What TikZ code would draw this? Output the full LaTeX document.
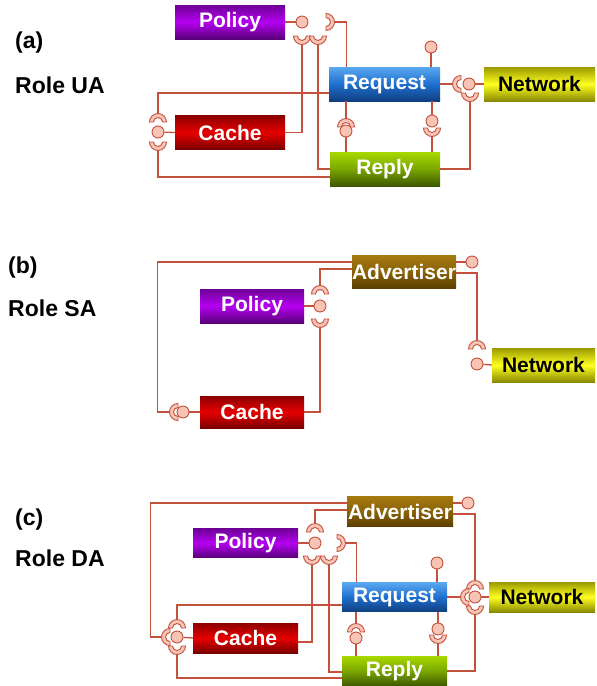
\documentclass[tikz,border=0pt]{standalone}
\usepackage{fontspec}
\setmainfont{Liberation Sans}

\definecolor{linkc}{HTML}{C4513E}
\definecolor{ballc}{HTML}{F7C4B6}

\tikzset{
  comp node/.style={rectangle, inner sep=0pt, text=white,
                    font=\fontsize{21pt}{25pt}\selectfont\bfseries},
  policy box/.style={comp node, top color={rgb,255:red,110;green,0;blue,150},
                     bottom color={rgb,255:red,90;green,0;blue,122},
                     middle color={rgb,255:red,180;green,0;blue,240}},
  cache box/.style={comp node, top color={rgb,255:red,140;green,0;blue,0},
                    bottom color={rgb,255:red,122;green,0;blue,0},
                    middle color={rgb,255:red,230;green,0;blue,0}},
  request box/.style={comp node, top color={rgb,255:red,90;green,168;blue,240},
                      bottom color={rgb,255:red,16;green,63;blue,128},
                      middle color={rgb,255:red,31;green,111;blue,208}},
  reply box/.style={comp node, top color={rgb,255:red,168;green,216;blue,0},
                    bottom color={rgb,255:red,62;green,88;blue,0},
                    middle color={rgb,255:red,122;green,166;blue,0}},
  network box/.style={comp node, text=black,
                      top color={rgb,255:red,154;green,154;blue,0},
                      bottom color={rgb,255:red,138;green,138;blue,0},
                      middle color={rgb,255:red,255;green,255;blue,32}},
  advertiser box/.style={comp node, top color={rgb,255:red,165;green,122;blue,16},
                         bottom color={rgb,255:red,92;green,64;blue,0},
                         middle color={rgb,255:red,138;green,98;blue,8}},
  role label/.style={anchor=west, inner sep=0pt,
                     font=\fontsize{23pt}{27pt}\selectfont\bfseries},
  ball node/.style={circle, draw=linkc, fill=ballc, line width=0.9pt,
                    inner sep=0pt, minimum size=12pt},
  link/.style={draw=linkc, line width=1.3pt},
  sock/.pic={
    \filldraw[draw=linkc, fill=ballc, line width=0.9pt]
      (0,8.5) arc[start angle=90, end angle=270, radius=8.5]
      -- (0,-4.5) arc[start angle=270, end angle=90, radius=4.5] -- cycle;
    \coordinate (-b) at (-8.5,0);
  }
}

\begin{document}
\begin{tikzpicture}[x=1pt, y=-1pt]
  \useasboundingbox (0,0) rectangle (597,686);

  % (a) Role UA
  \node[role label] (labA) at (15,43) {(a)};
  \node[role label] (roleA) at (15,85) {Role UA};

  \node[policy box, minimum width=110pt, minimum height=34pt] (polA) at (230,22) {Policy};
  \node[request box, minimum width=111pt, minimum height=34pt] (reqA) at (384.5,84) {Request};
  \node[cache box, minimum width=110pt, minimum height=34pt] (cacA) at (230,132.5) {Cache};
  \node[reply box, minimum width=110pt, minimum height=34pt] (repA) at (385,169) {Reply};
  \node[network box, minimum width=111pt, minimum height=34pt] (netA) at (539.5,84) {Network};

  \pic[rotate=180] (sA1) at (326,22) {sock};
  \pic[rotate=90] (sA2) at (302,36) {sock};
  \pic[rotate=90] (sA3) at (318,36) {sock};
  \pic (sA4) at (461,84) {sock};
  \pic[rotate=90] (sA5) at (470,93) {sock};
  \pic[rotate=-90] (sA6) at (346,127) {sock};
  \pic[rotate=90] (sA7) at (432,128) {sock};
  \pic[rotate=-90] (sA8) at (158,122) {sock};
  \pic[rotate=90] (sA9) at (158,142) {sock};

  \node[ball node] (bA1) at (302,22) {};
  \node[ball node] (bA2) at (431,47) {};
  \node[ball node] (bA3) at (469,84) {};
  \node[ball node] (bA4) at (346,131) {};
  \node[ball node] (bA5) at (432,121) {};
  \node[ball node] (bA6) at (158,132) {};

  \draw[link] (polA) -- (bA1);
  \draw[link] (sA1-b) -| ([xshift=18pt]reqA.north west);
  \draw[link] (sA2-b) |- (cacA.east);
  \draw[link] (sA3-b) |- (repA.west);
  \draw[link] (bA2) -- (bA2 |- reqA.north);
  \draw[link] (reqA.east) -- (sA4-b);
  \draw[link] (bA3) -- (netA.west);
  \draw[link] (sA5-b) |- (repA.east);
  \draw[link] (sA6-b) -- (sA6-b |- reqA.south);
  \draw[link] (bA4) -- (bA4 |- repA.north);
  \draw[link] (bA5) -- (bA5 |- reqA.south);
  \draw[link] (sA7-b) -- (sA7-b |- repA.north);
  \draw[link] (bA6) -- (cacA.west);
  \draw[link] (sA8-b) |- ([yshift=-9pt]reqA.west);
  \draw[link] (sA9-b) |- ([yshift=-8pt]repA.west);

  % (b) Role SA
  \node[role label] (labB) at (8,268) {(b)};
  \node[role label] (roleB) at (8,308) {Role SA};

  \node[policy box, minimum width=104pt, minimum height=34pt] (polB) at (252,306) {Policy};
  \node[cache box, minimum width=104pt, minimum height=32pt] (cacB) at (252,412) {Cache};
  \node[advertiser box, minimum width=104pt, minimum height=33pt] (advB) at (404,271.5) {Advertiser};
  \node[network box, minimum width=103pt, minimum height=34pt] (netB) at (543.5,365) {Network};

  \pic[rotate=-90] (sB1) at (320,294) {sock};
  \pic[rotate=90] (sB2) at (320,319) {sock};
  \pic (sB3) at (178,412) {sock};
  \pic[rotate=-90] (sB4) at (477,349) {sock};

  \node[ball node] (bB1) at (320,306) {};
  \node[ball node] (bB2) at (183,412) {};
  \node[ball node] (bB3) at (472,262) {};
  \node[ball node] (bB4) at (477,364) {};

  \draw[link] (polB) -- (bB1);
  \draw[link] (sB1-b) |- ([yshift=2.5pt]advB.west);
  \draw[link] (sB2-b) |- (cacB.east);
  \draw[link] (bB2) -- (cacB.west);
  \draw[link] (sB3-b) -- ++(-12,0) |- ([yshift=9.5pt]advB.west);
  \draw[link] ([yshift=9.5pt]advB.east) -- (bB3);
  \draw[link] ([yshift=-1.5pt]advB.east) -| (sB4-b);
  \draw[link] (bB4) -- (netB.west);

  % (c) Role DA
  \node[role label] (labC) at (15,520) {(c)};
  \node[role label] (roleC) at (15,558) {Role DA};

  \node[advertiser box, minimum width=106pt, minimum height=30pt] (advC) at (400,511.5) {Advertiser};
  \node[policy box, minimum width=105pt, minimum height=29pt] (polC) at (245.5,543) {Policy};
  \node[request box, minimum width=105pt, minimum height=29pt] (reqC) at (394.5,597) {Request};
  \node[network box, minimum width=106pt, minimum height=30pt] (netC) at (542,597) {Network};
  \node[cache box, minimum width=105pt, minimum height=30pt] (cacC) at (245.5,638) {Cache};
  \node[reply box, minimum width=105pt, minimum height=30pt] (repC) at (394.5,671) {Reply};

  \pic[rotate=-90] (sC1) at (315,532) {sock};
  \pic[rotate=180] (sC2) at (337,543) {sock};
  \pic[rotate=90] (sC3) at (312,556) {sock};
  \pic[rotate=90] (sC4) at (329,556) {sock};
  \pic[rotate=-90] (sC5) at (475,589) {sock};
  \pic (sC6) at (469,597) {sock};
  \pic[rotate=90] (sC7) at (475,606) {sock};
  \pic[rotate=-90] (sC8) at (356,632) {sock};
  \pic[rotate=90] (sC9) at (438,635) {sock};
  \pic[rotate=-90] (sC10) at (177,628) {sock};
  \pic (sC11) at (170,637) {sock};
  \pic[rotate=90] (sC12) at (177,646) {sock};

  \node[ball node] (bC1) at (315,543) {};
  \node[ball node] (bC2) at (468,503) {};
  \node[ball node] (bC3) at (437,563) {};
  \node[ball node] (bC4) at (475,597) {};
  \node[ball node] (bC5) at (356,638) {};
  \node[ball node] (bC6) at (438,629) {};
  \node[ball node] (bC7) at (177,637) {};

  \draw[link] (polC) -- (bC1);
  \draw[link] (sC1-b) |- ([yshift=1.5pt]advC.west);
  \draw[link] (sC2-b) -| ([xshift=15pt]reqC.north west);
  \draw[link] (sC3-b) |- ([yshift=-4pt]cacC.east);
  \draw[link] (sC4-b) |- ([yshift=-1pt]repC.west);
  \draw[link] ([yshift=8.5pt]advC.east) -- (bC2);
  \draw[link] ([yshift=-2.5pt]advC.east) -| (sC5-b);
  \draw[link] (reqC.east) -- (sC6-b);
  \draw[link] (bC4) -- (netC.west);
  \draw[link] (sC7-b) |- (repC.east);
  \draw[link] (bC3) -- (bC3 |- reqC.north);
  \draw[link] (sC8-b) -- (sC8-b |- reqC.south);
  \draw[link] (bC5) -- (bC5 |- repC.north);
  \draw[link] (bC6) -- (bC6 |- reqC.south);
  \draw[link] (sC9-b) -- (sC9-b |- repC.north);
  \draw[link] (bC7) -- (cacC.west);
  \draw[link] (sC10-b) |- ([yshift=-8pt]reqC.west);
  \draw[link] (sC11-b) -- ++(-11,0) |- ([yshift=8.5pt]advC.west);
  \draw[link] (sC12-b) |- ([yshift=-7pt]repC.west);
\end{tikzpicture}
\end{document}
